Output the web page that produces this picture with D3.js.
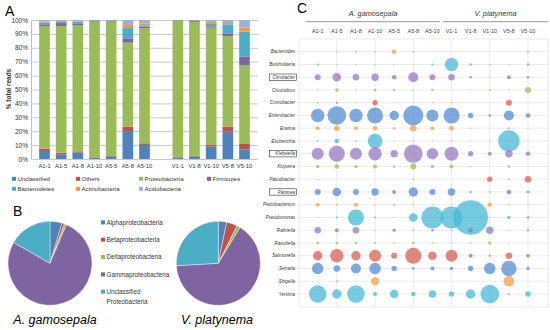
<!DOCTYPE html>
<html>
<head>
<meta charset="utf-8">
<script src="https://cdn.jsdelivr.net/npm/d3@7"></script>
<style>
  body { margin: 0; background: #fff; }
  svg { font-family: "Liberation Sans", Arial, sans-serif; }
</style>
</head>
<body>
<div id="fig"></div>
<script>
// ---- data: panel A (stacked bars, % of reads) ----
var samples = ["A1-1","A1-5","A1-8","A1-10","A5-5","A5-8","A5-10","V1-1","V1-8","V1-10","V5-8","V5-10"];
var phyla = ["Unclassified","Others","Proteobacteria","Firmicutes","Bacteroidetes","Actinobacteria","Acidobacteria"];
var unclassified   = [5.8, 3.4, 4.6, 1.0, 1.7, 20.1, 10.1, 0.7, 1.9, 8.9, 19.7, 7.0];
var others         = [1.6, 1.2, 0.9, 0.2, 0.5, 3.2, 1.2, 0.5, 0.5, 1.2, 3.6, 3.8];
var proteobacteria = [88.3, 91.1, 90.9, 97.6, 96.4, 60.4, 82.7, 98.1, 96.3, 84.4, 65.2, 56.8];
var firmicutes     = [1.2, 2.1, 1.2, 0.7, 0.5, 3.1, 1.2, 0.3, 0.9, 0.9, 1.9, 6.0];
var bacteroidetes  = [1.2, 0.8, 1.0, 0.2, 0.5, 7.4, 1.0, 0.2, 0.1, 1.7, 6.5, 18.0];
var actinobacteria = [0.9, 0.7, 0.4, 0.1, 0.1, 2.2, 1.4, 0.1, 0.1, 1.5, 0.9, 3.1];
var acidobacteria  = [1.0, 0.7, 1.0, 0.2, 0.3, 3.6, 2.4, 0.1, 0.2, 1.4, 2.2, 5.3];
var yTicks = [0,10,20,30,40,50,60,70,80,90,100];

// ---- data: panel B (pies, % of Proteobacteria) ----
var classes = ["Alphaproteobacteria","Betaproteobacteria","Deltaproteobacteria","Gammaproteobacteria","Unclassified Proteobacteria"];
var pieGamosepala = [4.6, 1.0, 0.8, 76.9, 16.7];
var piePlatynema  = [3.2, 4.2, 1.3, 65.4, 25.9];

// ---- data: panel C (bubble chart, genus abundance) ----
var genera = ["Bacteroides","Burkholderia","Citrobacter","Clostridium","Cronobacter","Enterobacter","Erwinia",
  "Escherichia","Klebsiella","Kluyvera","Paludibacter","Pantoea","Pectobacterium","Pseudomonas","Rahnella",
  "Raoultella","Salmonella","Serratia","Shigella","Yersinia"];
var boxedGenera = ["Citrobacter","Klebsiella","Pantoea"];
var genusValues = [
  [0, 0.1, 0.2, 0.13, 1.06, 0.2, 0, 0, 0, 0, 0, 0.2],            // Bacteroides
  [0.2, 0.05, 0.02, 0.05, 0.05, 0.02, 0.2, 9, 0.34, 0.1, 0.02, 0.29], // Burkholderia
  [1.8, 3.7, 2.18, 2.74, 1.06, 5, 1.8, 2.18, 0.34, 0.02, 0.8, 0.34],  // Citrobacter
  [0.1, 0.58, 0.1, 0.34, 0.34, 0.1, 0.34, 0, 0.02, 0.2, 0.1, 1.8],   // Clostridium
  [0.1, 0.2, 0.05, 1.46, 0.02, 0.05, 0.02, 0.02, 0, 0, 1.8, 0],      // Cronobacter
  [9, 17.3, 9, 12.8, 4.4, 20, 7.2, 12.8, 1.46, 0.34, 5, 1.06],       // Enterobacter
  [0.8, 1.46, 0.8, 1.06, 0.34, 2.18, 0.8, 1.06, 0.1, 0.02, 0.2, 0.1], // Erwinia
  [0.13, 1.06, 0.13, 10.7, 0.02, 0.1, 0.02, 0.1, 0.01, 0.02, 22.9, 0.02], // Escherichia
  [7.2, 12.8, 7.2, 9, 2.74, 17.3, 6.5, 9.8, 1.46, 0.8, 2.74, 1.06],  // Klebsiella
  [0.58, 1.06, 0.58, 0.8, 0.34, 1.8, 0.58, 0.8, 0.1, 0, 0.34, 0.02], // Kluyvera
  [0.05, 0, 0, 0, 0, 0.1, 0, 0, 0, 1.46, 0.1, 2.18],                  // Paludibacter
  [1.8, 3.7, 1.8, 2.74, 0.8, 4.4, 1.8, 2.74, 0.2, 0.13, 1.06, 0.34], // Pantoea
  [0.8, 0.2, 0.8, 0.1, 0.2, 0.1, 0.1, 0.1, 0.1, 1.06, 0.1, 0.1],     // Pectobacterium
  [0.01, 0.2, 12.8, 0.2, 0.05, 3.7, 24.2, 24.2, 60, 0.05, 0.58, 0.34], // Pseudomonas
  [2.18, 0.8, 2.18, 0.05, 0.58, 0.1, 0.34, 0.1, 1.06, 2.74, 0.02, 0.2], // Rahnella
  [0.34, 0.34, 0.34, 0.2, 0.13, 0.34, 0.13, 0.13, 0.1, 0.58, 0.05, 0.02], // Raoultella
  [4.4, 9, 4.4, 7.2, 1.8, 12.8, 3.7, 7.2, 0.8, 0.2, 2.18, 0.58],     // Salmonella
  [6.5, 2.18, 5, 6.5, 1.46, 0.34, 0.8, 0.58, 1.46, 6.5, 11.9, 0.58], // Serratia
  [0.02, 0.2, 0.02, 3.2, 0, 0, 0, 0, 0, 0, 5.6, 0],                   // Shigella
  [15.1, 4.4, 15.1, 0.8, 3.7, 1.06, 2.74, 1.46, 4.4, 17.3, 0.2, 1.46] // Yersinia
];

var phylumColors = ["#4f81bd","#c0504d","#9bbb59","#8064a2","#4bacc6","#f79646","#95b3d7"];
var bubbleColors = ["#f5a24c","#4dbbd5","#9a7ec2","#a0c25a","#d6675f","#5b8fd3"];

var svg = d3.select("#fig").append("svg")
  .attr("width", 550)
  .attr("height", 330);
svg.append("rect").attr("width", 550).attr("height", 330).attr("fill", "#fff");

// ================= Panel A =================
var gA = svg.append("g");
gA.append("text").attr("x", 5).attr("y", 16).attr("font-size", 14).text("A");

var bandDomain = samples.slice(0, 7).concat([" "]).concat(samples.slice(7));
var x = d3.scaleBand()
  .domain(bandDomain)
  .range([31, 258])
  .paddingInner(0.36)
  .paddingOuter(0.49);
var y = d3.scaleLinear().domain([0, 100]).range([159, 20]);

// gridlines + y axis
var yAxis = gA.append("g")
  .attr("transform", "translate(31,0)")
  .call(d3.axisLeft(y).tickValues(yTicks).tickSize(-227).tickFormat(function(d) { return d + "%"; }));
yAxis.select(".domain").attr("stroke", "#bfbfbf");
yAxis.selectAll(".tick line").attr("stroke", "#c8c8c8");
yAxis.selectAll(".tick text").attr("font-size", 6.5).attr("fill", "#333").attr("x", -3)
  .attr("font-family", "Liberation Sans, Arial, sans-serif");
gA.append("text")
  .attr("transform", "translate(11,89) rotate(-90)")
  .attr("text-anchor", "middle")
  .attr("font-size", 6.5)
  .attr("font-weight", "bold")
  .attr("fill", "#333")
  .text("% total reads");

var rows = samples.map(function(s, i) {
  return {sample: s, Unclassified: unclassified[i], Others: others[i], Proteobacteria: proteobacteria[i],
    Firmicutes: firmicutes[i], Bacteroidetes: bacteroidetes[i], Actinobacteria: actinobacteria[i],
    Acidobacteria: acidobacteria[i]};
});
var stacked = d3.stack().keys(phyla)(rows);
gA.selectAll("g.layer")
  .data(stacked)
  .enter().append("g")
    .attr("class", "layer")
    .attr("fill", function(d, i) { return phylumColors[i]; })
  .selectAll("rect")
  .data(function(d) { return d; })
  .enter().append("rect")
    .attr("x", function(d) { return x(d.data.sample); })
    .attr("width", x.bandwidth())
    .attr("y", function(d) { return y(d[1]); })
    .attr("height", function(d) { return y(d[0]) - y(d[1]); });

// x labels
gA.selectAll("text.xlab")
  .data(samples)
  .enter().append("text")
    .attr("class", "xlab")
    .attr("x", function(d) { return x(d) + x.bandwidth() / 2; })
    .attr("y", 168)
    .attr("text-anchor", "middle")
    .attr("font-size", 5.8)
    .attr("fill", "#333")
    .text(function(d) { return d; });

// legend A
var legA = gA.selectAll("g.legA")
  .data(phyla)
  .enter().append("g")
    .attr("class", "legA")
    .attr("transform", function(d, i) {
      var cx = [12, 76, 139, 207][i % 4];
      var cy = i < 4 ? 179 : 189;
      return "translate(" + cx + "," + cy + ")";
    });
legA.append("rect").attr("x", 0).attr("y", -2.2).attr("width", 4).attr("height", 4)
  .attr("fill", function(d, i) { return phylumColors[i]; });
legA.append("text").attr("x", 5.5).attr("y", 2).attr("font-size", 6).attr("fill", "#333")
  .text(function(d) { return d; });

// ================= Panel B =================
var gB = svg.append("g");
gB.append("text").attr("x", 13).attr("y", 216).attr("font-size", 14).text("B");

var pie = d3.pie().sort(null).value(function(d) { return d; });
var arc = d3.arc().innerRadius(0).outerRadius(42);
[[pieGamosepala, 50, 55, "A. gamosepala"], [piePlatynema, 218.3, 217, "V. platynema"]].forEach(function(p) {
  var g = gB.append("g").attr("transform", "translate(" + p[1] + ",263.3)");
  g.selectAll("path")
    .data(pie(p[0]))
    .enter().append("path")
      .attr("d", arc)
      .attr("fill", function(d, i) { return phylumColors[i]; })
      .attr("stroke", "#fff")
      .attr("stroke-width", 0.4);
  gB.append("text")
    .attr("x", p[2])
    .attr("y", 324)
    .attr("text-anchor", "middle")
    .attr("font-size", 12.5)
    .attr("font-style", "italic")
    .text(p[3]);
});

var legBY = [222.7, 240, 257.3, 274.7, 292];
var legB = gB.selectAll("g.legB")
  .data(classes)
  .enter().append("g")
    .attr("class", "legB")
    .attr("transform", function(d, i) { return "translate(101," + legBY[i] + ")"; });
legB.append("rect").attr("x", 0).attr("y", -2.3).attr("width", 4).attr("height", 4)
  .attr("fill", function(d, i) { return phylumColors[i]; });
legB.append("text").attr("x", 5.5).attr("y", 2).attr("font-size", 6.3).attr("fill", "#333")
  .each(function(d) {
    var t = d3.select(this);
    var parts = d.indexOf("Unclassified") === 0 ? ["Unclassified", "Proteobacteria"] : [d];
    parts.forEach(function(s, k) {
      t.append("tspan").attr("x", 5.5).attr("dy", k === 0 ? 0 : 9.7).text(s);
    });
  });

// ================= Panel C =================
var gC = svg.append("g");
gC.append("text").attr("x", 297).attr("y", 13).attr("font-size", 14).text("C");

var xc = d3.scalePoint().domain(samples).range([317.7, 528]);
var yc = d3.scalePoint().domain(genera).range([51.7, 294]);
var r = d3.scaleSqrt().domain([0, 61]).range([0, 17.5]);
var colorC = d3.scaleOrdinal().domain(genera).range(bubbleColors);

// frame and grid
gC.append("rect").attr("x", 299).attr("y", 39).attr("width", 249).attr("height", 268)
  .attr("fill", "none").attr("stroke", "#e4e4e4").attr("stroke-width", 0.8);
gC.selectAll("line.hg")
  .data(genera)
  .enter().append("line")
    .attr("class", "hg")
    .attr("x1", 297).attr("x2", 548)
    .attr("y1", function(d) { return yc(d); })
    .attr("y2", function(d) { return yc(d); })
    .attr("stroke", "#e6e6e6").attr("stroke-width", 0.8);
gC.selectAll("line.vg")
  .data(samples.filter(function(d, i) { return i % 2 === 1; }))
  .enter().append("line")
    .attr("class", "vg")
    .attr("x1", function(d) { return xc(d); })
    .attr("x2", function(d) { return xc(d); })
    .attr("y1", 39).attr("y2", 307)
    .attr("stroke", "#e6e6e6").attr("stroke-width", 0.8);

// group headers
[["A. gamosepala", 306, 440], ["V. platynema", 443, 548]].forEach(function(h) {
  gC.append("line").attr("x1", h[1]).attr("x2", h[2]).attr("y1", 21.7).attr("y2", 21.7)
    .attr("stroke", "#8a8a8a").attr("stroke-width", 0.9);
  gC.append("text").attr("x", (h[1] + h[2]) / 2).attr("y", 15.5).attr("text-anchor", "middle")
    .attr("font-size", 7.3).attr("font-style", "italic").attr("fill", "#333").text(h[0]);
});

// column labels
gC.selectAll("text.clab")
  .data(samples)
  .enter().append("text")
    .attr("class", "clab")
    .attr("x", function(d) { return xc(d); })
    .attr("y", 33)
    .attr("text-anchor", "middle")
    .attr("font-size", 5.5)
    .attr("fill", "#444")
    .text(function(d) { return d; });

// row labels
gC.selectAll("text.rlab")
  .data(genera)
  .enter().append("text")
    .attr("class", "rlab")
    .attr("x", 295)
    .attr("y", function(d) { return yc(d) + 1.6; })
    .attr("text-anchor", "end")
    .attr("font-size", 4.6)
    .attr("font-style", "italic")
    .attr("fill", "#333")
    .text(function(d) { return d; });
gC.selectAll("rect.box")
  .data(boxedGenera)
  .enter().append("rect")
    .attr("class", "box")
    .attr("x", 269.5).attr("width", 27)
    .attr("y", function(d) { return yc(d) - 3.2; })
    .attr("height", 6.4)
    .attr("fill", "none").attr("stroke", "#333").attr("stroke-width", 0.6);

// bubbles
var cells = [];
genera.forEach(function(g, gi) {
  samples.forEach(function(s, si) {
    if (genusValues[gi][si] > 0) cells.push({genus: g, sample: s, value: genusValues[gi][si]});
  });
});
gC.selectAll("circle")
  .data(cells)
  .enter().append("circle")
    .attr("cx", function(d) { return xc(d.sample); })
    .attr("cy", function(d) { return yc(d.genus); })
    .attr("r", function(d) { return Math.max(0.5, r(d.value)); })
    .attr("fill", function(d) { return colorC(d.genus); })
    .attr("fill-opacity", 0.78);
</script>
</body>
</html>
